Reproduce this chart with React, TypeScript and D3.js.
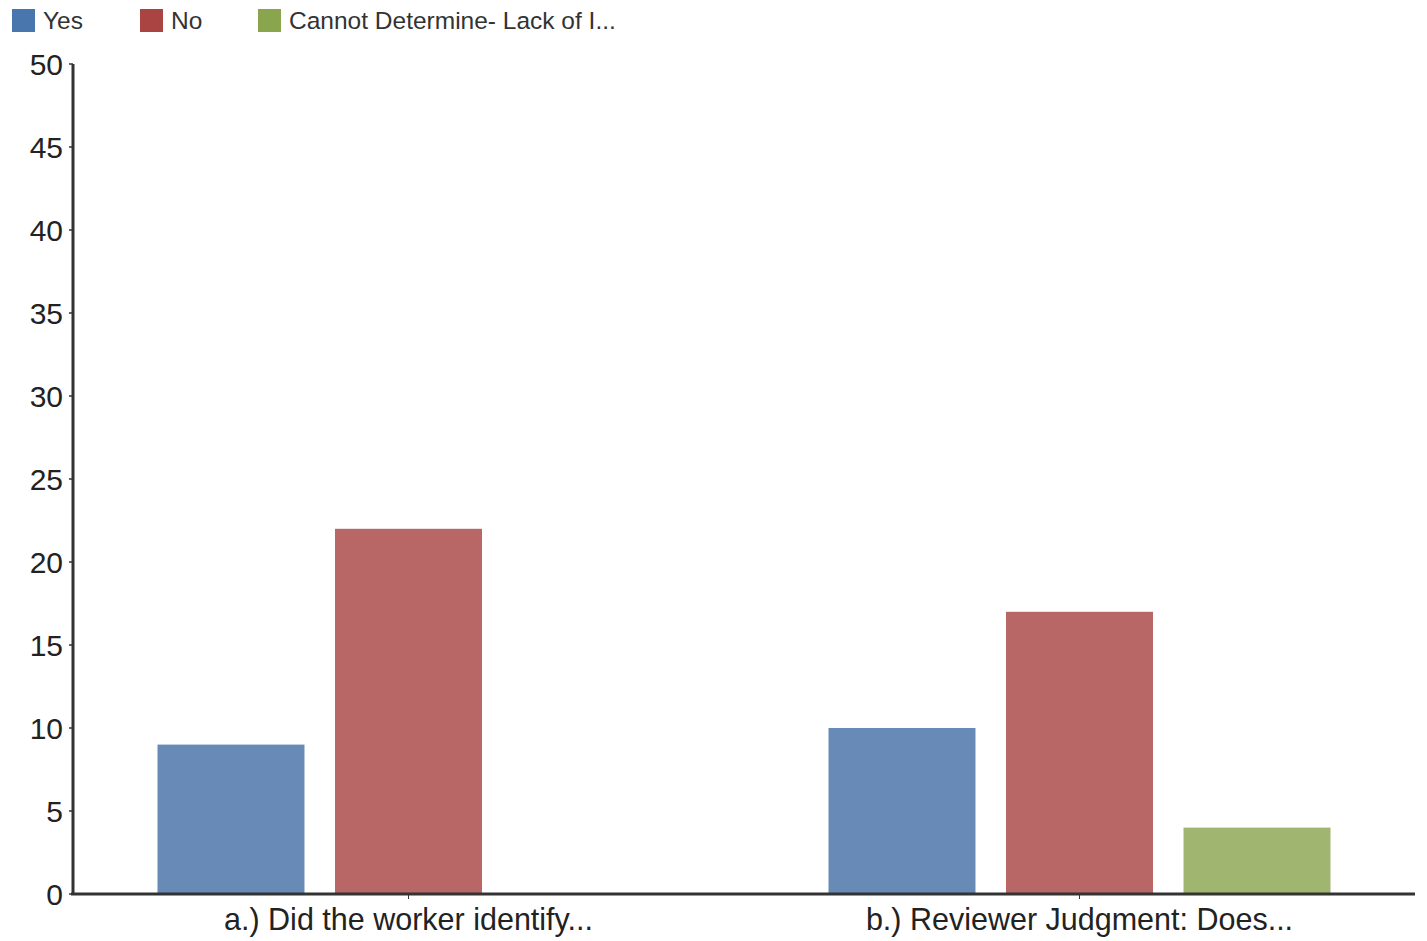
import React from "react";
import * as d3 from "d3";

const categories = ["a.) Did the worker identify...", "b.) Reviewer Judgment: Does..."];
const seriesNames = ["Yes", "No", "Cannot Determine- Lack of I..."];
const yesValues = [9, 10];
const noValues = [22, 17];
const cannotValues = [0, 4];
const yTicks = [0, 5, 10, 15, 20, 25, 30, 35, 40, 45, 50];
const colors = ["#678BB6", "#B96666", "#9FB570"];
const legendColors = ["#4A76AE", "#AA4442", "#89A54E"];

const W = 1427;
const H = 941;
const margin = { left: 73, right: 12, top: 64, bottom: 47 };

export default function App() {
  const series = [yesValues, noValues, cannotValues];
  const x0 = d3.scaleBand<string>().domain(categories).range([margin.left, W - margin.right]).padding(0);
  const x1 = d3
    .scaleBand<number>()
    .domain([0, 1, 2])
    .range([0, x0.bandwidth()])
    .paddingInner(0.172)
    .paddingOuter(0.476);
  const y = d3.scaleLinear().domain([0, 50]).range([H - margin.bottom, margin.top]);
  const font = "'Liberation Sans', Arial, sans-serif";
  const legendX = [12, 140, 258];

  return (
    <svg width={W} height={H} style={{ position: "absolute", left: 0, top: 0, background: "#fff" }} fontFamily={font}>
      {/* legend */}
      {seriesNames.map((n, i) => (
        <g key={n}>
          <rect x={legendX[i]} y={9} width={23} height={23} fill={legendColors[i]} />
          <text x={legendX[i] + 31} y={29} fontSize={24.5} fill="#333">
            {n}
          </text>
        </g>
      ))}
      {/* bars */}
      {categories.map((c, ci) => (
        <g key={c}>
          {series.map((vals, si) =>
            vals[ci] > 0 ? (
              <rect
                key={si}
                x={(x0(c) as number) + (x1(si) as number)}
                y={y(vals[ci])}
                width={x1.bandwidth()}
                height={y(0) - y(vals[ci])}
                fill={colors[si]}
              />
            ) : null
          )}
        </g>
      ))}
      {/* y axis */}
      <line x1={margin.left} x2={margin.left} y1={y(50)} y2={y(0)} stroke="#333" strokeWidth={3} />
      {yTicks.map((t) => (
        <g key={t}>
          <line x1={margin.left - 4} x2={margin.left} y1={y(t)} y2={y(t)} stroke="#333" strokeWidth={1.5} />
          <text x={margin.left - 10} y={y(t)} dy="0.35em" textAnchor="end" fontSize={30} fill="#222">
            {t}
          </text>
        </g>
      ))}
      {/* x axis */}
      <line x1={margin.left - 2} x2={W - margin.right} y1={y(0)} y2={y(0)} stroke="#333" strokeWidth={3} />
      {categories.map((c) => {
        const cx = (x0(c) as number) + x0.bandwidth() / 2;
        return (
          <g key={c}>
            <line x1={cx} x2={cx} y1={y(0)} y2={y(0) + 5} stroke="#333" strokeWidth={1} />
            <text x={cx} y={y(0) + 36} textAnchor="middle" fontSize={30.5} fill="#222">
              {c}
            </text>
          </g>
        );
      })}
    </svg>
  );
}
